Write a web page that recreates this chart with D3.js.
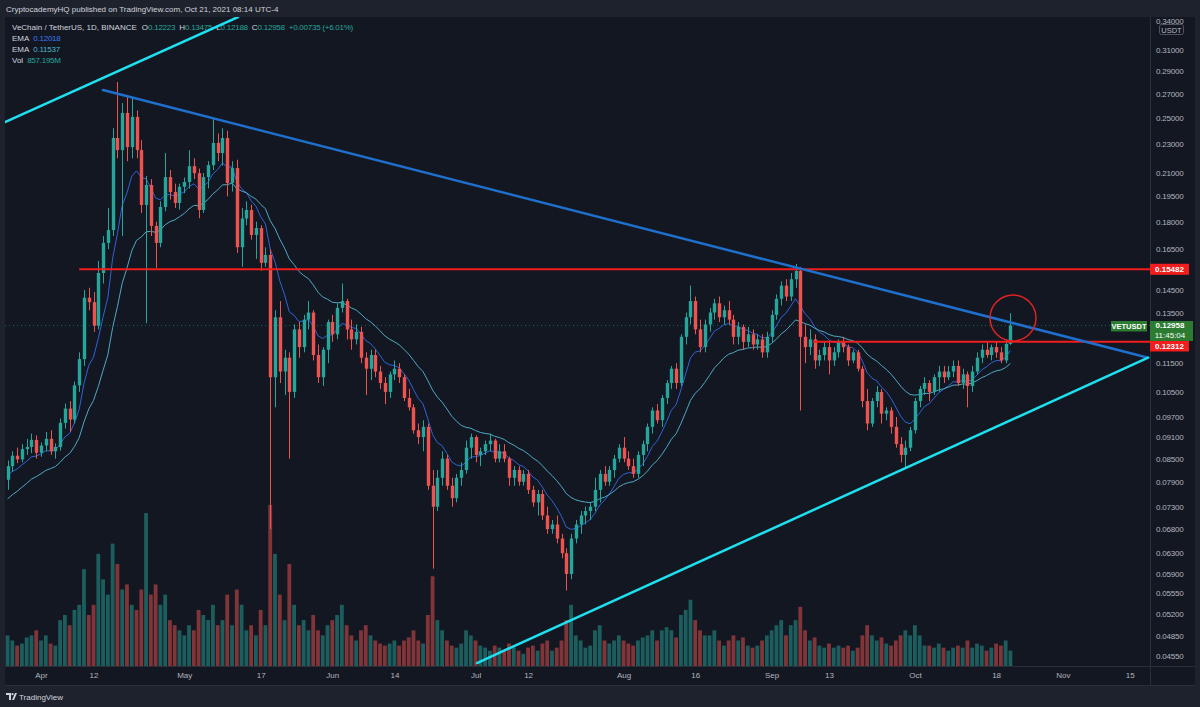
<!DOCTYPE html>
<html><head><meta charset="utf-8">
<script src="https://cdn.jsdelivr.net/npm/d3@7"></script>
<style>
html,body{margin:0;padding:0;background:#1e222d;}
svg{display:block;font-family:"Liberation Sans",Arial,sans-serif;}
</style></head><body>
<svg id="chart" width="1200" height="707"></svg>
<script>
// ---------------- DATA (VET/USDT daily, Binance) ----------------
const firstDay = "2021-03-25";
const opens = [
 .0795,.0830,.0858,.0848,.0876,.0882,.0902,
 .0866,.0886,.0905,.0870,.0882,.0952,.0996,.0962,.1072,.1165,.1415,.1395,.1295,.1530,.1683,.1753,.2346,.2258,.2540,.2279,.2508,.2258,.1898,.2022,.1776,.1683,.1886,.2073,.1977,.1910,
 .2010,.2041,.2146,.2099,.1868,.2073,.2153,.2310,.2237,.2346,.2035,.2133,.1660,.1818,.1868,.1726,.1764,.1580,.1620,.1100,.1330,.1120,.1170,.1050,.1280,.1210,.1320,.1350,.1180,.1100,.1200,
 .1310,.1260,.1370,.1400,.1280,.1240,.1270,.1170,.1130,.1180,.1120,.1080,.1050,.1110,.1130,.1100,.1030,.1000,.0930,.0910,.0940,.0780,.0730,.0800,.0850,.0780,.0750,.0800,.0820,.0880,
 .0910,.0860,.0870,.0890,.0900,.0850,.0870,.0850,.0800,.0820,.0790,.0810,.0770,.0740,.0760,.0710,.0680,.0690,.0660,.0630,.0590,.0660,.0690,.0710,.0720,.0730,.0770,.0810,.0790,.0820,.0850,
 .0880,.0850,.0830,.0810,.0860,.0890,.0940,.0990,.0960,.1030,.1080,.1130,.1080,.1250,.1330,.1400,.1280,.1210,.1300,.1350,.1390,.1330,.1360,.1320,.1250,.1290,.1230,.1260,.1220,.1240,.1190,
 .1250,.1340,.1410,.1470,.1420,.1500,.1540,.1250,.1210,.1240,.1160,.1180,.1210,.1160,.1190,.1230,.1210,.1160,.1190,.1130,.1020,.0950,.1020,.1050,.0980,.0990,.0940,.0890,.0860,.0880,
 .0930,.1020,.1060,.1080,.1050,.1100,.1120,.1100,.1120,.1140,.1080,.1110,.1070,.1120,.1170,.1200,.1180,.1210,.1190,.1160,.12223
];
const highs = [
 .0845,.0870,.0880,.0890,.0905,.0920,.0915,
 .0895,.0925,.0930,.0892,.0965,.1012,.1020,.1085,.1190,.1450,.1460,.1440,.1590,.1720,.1880,.2420,.2801,.2620,.2689,.2676,.2560,.2330,.2080,.2060,.1800,.1920,.2237,.2120,.2030,.2030,
 .2070,.2258,.2200,.2130,.2100,.2180,.2500,.2380,.2420,.2400,.2180,.2190,.1880,.1920,.1900,.1800,.1780,.1660,.1650,.1360,.1400,.1200,.1190,.1300,.1310,.1340,.1400,.1360,.1220,.1210,.1320,
 .1340,.1390,.1480,.1410,.1320,.1300,.1290,.1190,.1200,.1200,.1140,.1100,.1120,.1160,.1150,.1110,.1060,.1010,.0950,.0960,.0950,.0820,.0820,.0870,.0860,.0800,.0810,.0840,.0900,.0920,
 .0915,.0880,.0900,.0920,.0905,.0890,.0890,.0855,.0830,.0830,.0820,.0820,.0780,.0770,.0770,.0730,.0700,.0710,.0670,.0640,.0670,.0700,.0720,.0730,.0740,.0800,.0820,.0830,.0830,.0860,.0890,
 .0910,.0870,.0850,.0870,.0900,.0950,.1000,.1010,.1040,.1090,.1140,.1150,.1260,.1350,.1470,.1420,.1320,.1320,.1370,.1410,.1420,.1380,.1400,.1340,.1310,.1300,.1290,.1280,.1260,.1260,.1270,
 .1360,.1430,.1490,.1500,.1530,.1575,.1560,.1300,.1280,.1260,.1200,.1230,.1230,.1210,.1240,.1250,.1220,.1200,.1200,.1140,.1060,.1030,.1070,.1060,.1000,.1000,.0970,.0910,.0900,.0940,
 .1030,.1070,.1100,.1090,.1110,.1140,.1140,.1140,.1160,.1160,.1130,.1120,.1140,.1190,.1220,.1230,.1220,.1230,.1210,.1240,.13475
];
const lows = [
 .0770,.0815,.0838,.0840,.0860,.0865,.0850,
 .0855,.0870,.0860,.0850,.0872,.0935,.0925,.0950,.1050,.1140,.1360,.1270,.1280,.1480,.1650,.1720,.2200,.1720,.2180,.2200,.2200,.1850,.1305,.1720,.1555,.1660,.1860,.1930,.1880,.1870,
 .1970,.2000,.2060,.1820,.1850,.2000,.2120,.2180,.2150,.1950,.1980,.1630,.1560,.1780,.1700,.1600,.1540,.1560,.0680,.1000,.1080,.1040,.0850,.1030,.1170,.1190,.1280,.1160,.1080,.1070,.1150,
 .1230,.1240,.1350,.1240,.1200,.1220,.1150,.1040,.1090,.1100,.1060,.1010,.1030,.1090,.1080,.1020,.0990,.0920,.0890,.0870,.0770,.0600,.0720,.0780,.0770,.0730,.0740,.0780,.0810,.0850,
 .0840,.0830,.0860,.0870,.0840,.0840,.0840,.0780,.0780,.0780,.0780,.0760,.0730,.0710,.0700,.0670,.0670,.0650,.0620,.0560,.0580,.0650,.0670,.0690,.0700,.0720,.0740,.0780,.0780,.0800,.0840,
 .0840,.0820,.0800,.0800,.0830,.0870,.0920,.0950,.0940,.1010,.1060,.1060,.1070,.1220,.1300,.1260,.1190,.1190,.1270,.1320,.1310,.1300,.1300,.1220,.1220,.1200,.1210,.1200,.1200,.1170,.1170,
 .1230,.1320,.1380,.1400,.1400,.1460,.0990,.1150,.1180,.1130,.1140,.1160,.1110,.1140,.1170,.1190,.1140,.1150,.1120,.1000,.0930,.0940,.1000,.0950,.0960,.0920,.0880,.0840,.0825,.0870,
 .0920,.1000,.1040,.1020,.1040,.1050,.1080,.1090,.1100,.1070,.1060,.1000,.1050,.1110,.1150,.1170,.1160,.1170,.1150,.1150,.12188
];
const closes = [
 .0830,.0858,.0848,.0876,.0882,.0902,.0866,
 .0886,.0905,.0870,.0882,.0952,.0996,.0962,.1072,.1165,.1415,.1395,.1295,.1530,.1683,.1753,.2346,.2258,.2540,.2279,.2508,.2258,.1898,.2022,.1776,.1683,.1886,.2073,.1977,.1910,.2010,
 .2041,.2146,.2099,.1868,.2073,.2153,.2310,.2237,.2346,.2035,.2133,.1660,.1818,.1868,.1726,.1764,.1580,.1620,.1100,.1330,.1120,.1170,.1050,.1280,.1210,.1320,.1350,.1180,.1100,.1200,.1310,
 .1260,.1370,.1400,.1280,.1240,.1270,.1170,.1130,.1180,.1120,.1080,.1050,.1110,.1130,.1100,.1030,.1000,.0930,.0910,.0940,.0780,.0730,.0800,.0850,.0780,.0750,.0800,.0820,.0880,.0910,
 .0860,.0870,.0890,.0900,.0850,.0870,.0850,.0800,.0820,.0790,.0810,.0770,.0740,.0760,.0710,.0680,.0690,.0660,.0630,.0590,.0660,.0690,.0710,.0720,.0730,.0770,.0810,.0790,.0820,.0850,.0880,
 .0850,.0830,.0810,.0860,.0890,.0940,.0990,.0960,.1030,.1080,.1130,.1080,.1250,.1330,.1400,.1280,.1210,.1300,.1350,.1390,.1330,.1360,.1320,.1250,.1290,.1230,.1260,.1220,.1240,.1190,.1250,
 .1340,.1410,.1470,.1420,.1500,.1540,.1250,.1210,.1240,.1160,.1180,.1210,.1160,.1190,.1230,.1210,.1160,.1190,.1130,.1020,.0950,.1020,.1050,.0980,.0990,.0940,.0890,.0860,.0880,.0930,
 .1020,.1060,.1080,.1050,.1100,.1120,.1100,.1120,.1140,.1080,.1110,.1070,.1120,.1170,.1200,.1180,.1210,.1190,.1160,.12223,.12958
];
// volume in millions of VET
const volumes = [
 1710,1425,1140,1254,1596,1710,1995,
 1425,1710,1254,1140,2565,2850,2280,3135,3420,5415,2850,3420,6270,4845,3990,6840,5700,4275,4560,3420,3135,4275,8550,3990,4560,3420,3990,2565,2280,1995,
 1710,2280,1995,3135,2850,2565,3420,2280,2565,3990,2280,4275,3420,1995,2280,1710,3135,2280,9006,6270,3990,2565,5700,3420,2280,2565,1995,2850,1995,1710,2280,
 2565,2850,3420,2280,1710,1425,1995,2280,1710,1425,1254,1140,1254,1425,1140,1425,1596,1995,1425,1254,2850,5016,2565,1995,1425,1140,1026,1254,1995,1710,
 1425,1140,1026,855,1140,1026,855,1254,1026,855,684,1026,1140,855,1254,1425,855,1026,1425,2565,3420,1710,1425,1026,1140,1995,2280,1425,1254,1425,1710,
 1425,1254,1140,1425,1596,1710,1995,1425,1995,2166,1995,1596,2850,3135,3705,2565,1995,1710,1710,1995,1425,1140,1425,1710,1425,1596,1140,1026,1140,1425,1710,
 1995,2280,2565,1710,2280,2565,3306,1995,1425,1596,1140,1026,1254,1026,1140,1026,1140,855,1026,1710,2280,1710,1425,1596,1254,1140,1425,1710,1995,1710,
 2280,1710,1140,1140,1026,1254,1026,855,1026,1140,1026,1425,1026,1254,1140,855,1026,1254,1140,1425,857.195
];
const emaPeriods = [9, 21];
const emaSeeds = [0.0800, 0.0740];         // EMA values on the day before the first visible candle
const emaLegendValues = [0.12018, 0.11537];

const priceTicks = [0.34,0.31,0.29,0.27,0.25,0.23,0.21,0.195,0.18,0.165,0.145,0.135,0.115,0.105,0.097,0.091,0.085,0.079,0.073,0.068,0.063,0.059,0.0555,0.052,0.0485,0.0455];
const timeTickDates = ["2021-04-01","2021-04-12","2021-05-01","2021-05-17","2021-06-01","2021-06-14","2021-07-01","2021-07-12","2021-08-01","2021-08-16","2021-09-01","2021-09-13","2021-10-01","2021-10-18","2021-11-01","2021-11-15"];
const timeTickLabels = ["Apr","12","May","17","Jun","14","Jul","12","Aug","16","Sep","13","Oct","18","Nov","15"];

const levels = [{price:0.15482, from:"2021-04-09T00:00Z"}, {price:0.12312, from:"2021-09-09T17:00Z"}];
const trendBlue = [["2021-04-13T23:30Z",0.2731],["2021-11-18T20:00Z",0.1170]];
const trendCyanLow = [["2021-07-01T07:00Z",0.0445],["2021-11-18T20:00Z",0.1170]];
const trendCyanHigh = [["2021-03-24T11:00Z",0.2468],["2021-05-12T06:00Z",0.3441]];
const circleAnchor = ["2021-10-21T13:00Z", 0.1327];

// ---------------- SETUP ----------------
const W = 1200, H = 707;
const paneL = 5, paneT = 17, paneR = 1150, paneB = 666, frameR = 1195, frameB = 686;
const upC = "#26a69a", dnC = "#ef5350";
const day = 86400000;
const t0 = Date.parse(firstDay + "T00:00Z");
const n = Math.min(opens.length, highs.length, lows.length, closes.length, volumes.length);
const data = d3.range(n).map(i => ({date:new Date(t0 + i*day), o:opens[i], h:highs[i], l:lows[i], c:closes[i], v:volumes[i]}));

const x = d3.scaleUtc().domain([new Date("2021-04-01T00:00Z"), new Date("2021-11-15T00:00Z")]).range([41, 1129.8]);
const y = d3.scaleLog().domain([0.31, 0.0455]).range([50, 656]);
const yv = d3.scaleLinear().domain([0, 9000]).range([paneB, 505]);

const svg = d3.select("#chart");
svg.append("rect").attr("width", W).attr("height", H).attr("fill", "#1e222d");
svg.append("rect").attr("x", paneL).attr("y", paneT).attr("width", frameR - paneL).attr("height", frameB - paneT).attr("fill", "#131722");

const defs = svg.append("defs");
defs.append("clipPath").attr("id", "pane").append("rect").attr("x", paneL).attr("y", paneT).attr("width", paneR - paneL).attr("height", paneB - paneT);
defs.append("clipPath").attr("id", "raxis").append("rect").attr("x", paneR).attr("y", paneT).attr("width", frameR - paneR).attr("height", paneB - paneT);

// header
svg.append("text").attr("x", 6).attr("y", 12).attr("font-size", 8).attr("fill", "#d1d4dc")
  .text("CryptocademyHQ published on TradingView.com, Oct 21, 2021 08:14 UTC-4");

const plot = svg.append("g").attr("clip-path", "url(#pane)");

// volume
plot.append("g").selectAll("rect").data(data).join("rect")
  .attr("x", d => x(d.date) - 1.9).attr("width", 3.8)
  .attr("y", d => yv(d.v)).attr("height", d => paneB - yv(d.v))
  .attr("fill", d => d.c >= d.o ? upC : dnC).attr("fill-opacity", 0.5);

// EMA
const emaColors = ["#2f63d8", "#4ea9c4"];
emaPeriods.forEach((p, k) => {
  const a = 2 / (p + 1);
  let prev = emaSeeds[k];
  const pts = data.map(d => { prev = a * d.c + (1 - a) * prev; return [d.date, prev]; });
  plot.append("path").attr("d", d3.line().x(q => x(q[0])).y(q => y(q[1]))(pts))
    .attr("fill", "none").attr("stroke", emaColors[k]).attr("stroke-width", 1);
});

// candles
const cg = plot.append("g");
cg.selectAll("line").data(data).join("line")
  .attr("x1", d => Math.round(x(d.date)) + 0.5).attr("x2", d => Math.round(x(d.date)) + 0.5)
  .attr("y1", d => y(d.h)).attr("y2", d => y(d.l))
  .attr("stroke", d => d.c >= d.o ? upC : dnC).attr("stroke-width", 1);
cg.selectAll("rect").data(data).join("rect")
  .attr("x", d => Math.round(x(d.date)) + 0.5 - 1.7).attr("width", 3.4)
  .attr("y", d => y(Math.max(d.o, d.c))).attr("height", d => Math.max(1, Math.abs(y(d.o) - y(d.c))))
  .attr("fill", d => d.c >= d.o ? upC : dnC);

// last price dotted line
const last = data[n - 1];
plot.append("line").attr("x1", paneL).attr("x2", paneR).attr("y1", y(last.c)).attr("y2", y(last.c))
  .attr("stroke", upC).attr("stroke-opacity", 0.5).attr("stroke-dasharray", "1,3");

// legend
const numLS = -0.25;
const lg = svg.append("g").attr("font-size", 8).attr("fill", "#d1d4dc");
const l1 = lg.append("text").attr("x", 12).attr("y", 29.5);
l1.append("tspan").text("VeChain / TetherUS, 1D, BINANCE");
[["O", last.o], ["H", last.h], ["L", last.l], ["C", last.c]].forEach((kv, i) => {
  l1.append("tspan").attr("dx", i === 0 ? 5 : 4).text(kv[0]);
  l1.append("tspan").attr("fill", upC).attr("letter-spacing", numLS).text(kv[1].toFixed(5));
});
const prevClose = data[n - 2].c;
const chg = last.c - prevClose;
l1.append("tspan").attr("dx", 4).attr("fill", upC).attr("letter-spacing", numLS)
  .text("+" + chg.toFixed(5) + " (+" + (chg / prevClose * 100).toFixed(2) + "%)");
["EMA", "EMA"].forEach((lab, k) => {
  const t = lg.append("text").attr("x", 12).attr("y", 40.5 + k * 11);
  t.append("tspan").text(lab);
  t.append("tspan").attr("dx", 4).attr("letter-spacing", numLS).attr("fill", k === 0 ? "#3a78f0" : "#4fb3c8").text(emaLegendValues[k].toFixed(5));
});
const tv = lg.append("text").attr("x", 12).attr("y", 62.5);
tv.append("tspan").text("Vol");
tv.append("tspan").attr("dx", 4).attr("letter-spacing", numLS).attr("fill", upC).text(d3.format(".3f")(last.v) + "M");

// drawings
const draw = svg.append("g").attr("clip-path", "url(#pane)");
levels.forEach(lv => {
  draw.append("line").attr("x1", x(new Date(lv.from))).attr("x2", paneR)
    .attr("y1", y(lv.price)).attr("y2", y(lv.price)).attr("stroke", "#f21d1d").attr("stroke-width", 2);
});
const seg = (pts, col, w) => draw.append("line")
  .attr("x1", x(new Date(pts[0][0]))).attr("y1", y(pts[0][1]))
  .attr("x2", x(new Date(pts[1][0]))).attr("y2", y(pts[1][1]))
  .attr("stroke", col).attr("stroke-width", w).attr("stroke-linecap", "round");
seg(trendBlue, "#1f6fcc", 2.5);
seg(trendCyanLow, "#1de0f0", 2.5);
seg(trendCyanHigh, "#1de0f0", 2.5);
draw.append("circle").attr("cx", x(new Date(circleAnchor[0]))).attr("cy", y(circleAnchor[1])).attr("r", 23)
  .attr("fill", "none").attr("stroke", "#e02222").attr("stroke-width", 1.5);

// axes frame lines
svg.append("line").attr("x1", paneR + 0.5).attr("x2", paneR + 0.5).attr("y1", paneT).attr("y2", frameB).attr("stroke", "#2a2e39");
svg.append("line").attr("x1", paneL).attr("x2", frameR).attr("y1", paneB + 0.5).attr("y2", paneB + 0.5).attr("stroke", "#2a2e39");
svg.append("line").attr("x1", paneL).attr("x2", frameR).attr("y1", frameB - 0.5).attr("y2", frameB - 0.5).attr("stroke", "#2a2e39");

// price axis
const ya = svg.append("g").attr("clip-path", "url(#raxis)").append("g").attr("transform", `translate(${paneR},0)`)
  .call(d3.axisRight(y).tickValues(priceTicks).tickSize(0).tickPadding(6).tickFormat(d3.format(".5f")));
ya.select(".domain").remove();
ya.selectAll("text").attr("fill", "#b2b5be").attr("font-size", 8).attr("letter-spacing", -0.2).attr("font-family", "Liberation Sans,Arial,sans-serif");

// time axis
const xa = svg.append("g").attr("transform", `translate(0,${paneB})`)
  .call(d3.axisBottom(x).tickValues(timeTickDates.map(s => new Date(s + "T00:00Z"))).tickSize(0).tickPadding(6)
    .tickFormat((d, i) => timeTickLabels[i]));
xa.select(".domain").remove();
xa.selectAll("text").attr("fill", "#b2b5be").attr("font-size", 8).attr("font-family", "Liberation Sans,Arial,sans-serif");

// USDT badge
const ub = svg.append("g");
ub.append("rect").attr("x", 1159.5).attr("y", 24.5).attr("width", 24).attr("height", 10).attr("rx", 2)
  .attr("fill", "#131722").attr("stroke", "#50535e");
ub.append("text").attr("x", 1171.5).attr("y", 32.5).attr("text-anchor", "middle").attr("font-size", 7.5).attr("fill", "#b2b5be").text("USDT");

// price labels
const lab = svg.append("g").attr("font-size", 8).attr("font-weight", "bold").attr("fill", "#fff");
const yr1 = y(levels[0].price);
lab.append("rect").attr("x", paneR).attr("y", yr1 - 5.5).attr("width", 39).attr("height", 11).attr("fill", "#f21d1d");
lab.append("text").attr("x", paneR + 19.5).attr("y", yr1 + 3).attr("text-anchor", "middle").text(levels[0].price.toFixed(5));
const yl = y(last.c);
lab.append("rect").attr("x", paneR).attr("y", yl - 4.5).attr("width", 43).attr("height", 20).attr("fill", "#2b7c30");
lab.append("text").attr("x", paneR + 20).attr("y", yl + 3).attr("text-anchor", "middle").text(last.c.toFixed(5));
lab.append("text").attr("x", paneR + 20).attr("y", yl + 13).attr("text-anchor", "middle").attr("font-weight", "normal").text("11:45:04");
lab.append("rect").attr("x", 1111).attr("y", yl - 4.5).attr("width", 36).attr("height", 10.5).attr("fill", "#2b7c30");
lab.append("text").attr("x", 1129).attr("y", yl + 3.5).attr("text-anchor", "middle").attr("font-size", 7.5).text("VETUSDT");
const yr2 = Math.max(y(levels[1].price) - 5.5, yl + 15.5);
lab.append("rect").attr("x", paneR).attr("y", yr2).attr("width", 39).attr("height", 10.5).attr("fill", "#f21d1d");
lab.append("text").attr("x", paneR + 19.5).attr("y", yr2 + 8).attr("text-anchor", "middle").text(levels[1].price.toFixed(5));

// TradingView footer
const ft = svg.append("g").attr("fill", "#d1d4dc");
ft.append("path").attr("d", "M6,693 h5 v7 h-2 v-5 h-3 z M12,700 l3,-7 h2 l-3,7 z").attr("fill", "#d1d4dc");
ft.append("circle").attr("cx", 12.5).attr("cy", 694.2).attr("r", 1.1);
ft.append("text").attr("x", 19).attr("y", 700).attr("font-size", 8).text("TradingView");
</script>
</body></html>
